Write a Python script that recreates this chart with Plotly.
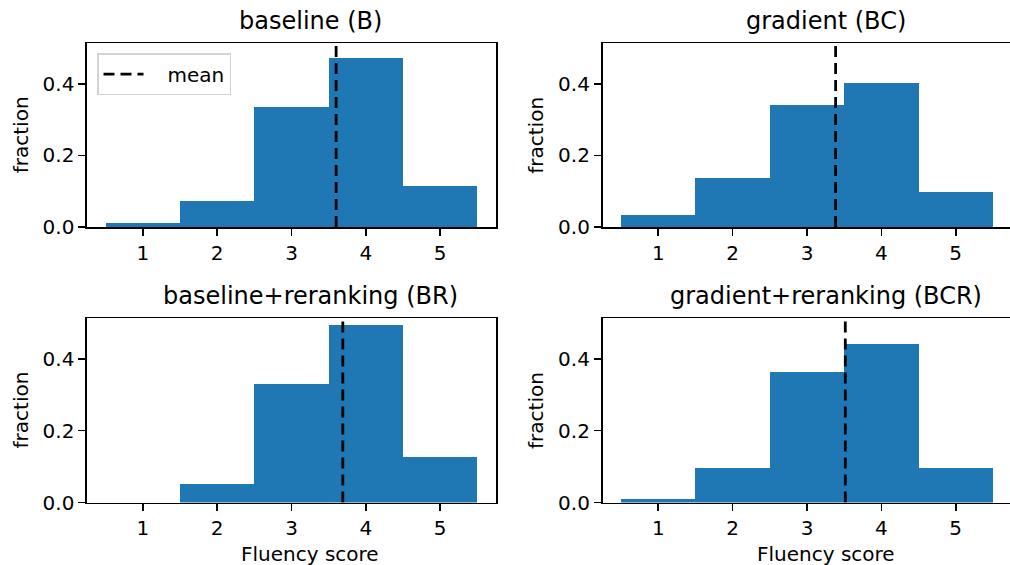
import plotly.graph_objects as go

scores = [1, 2, 3, 4, 5]
titles = ["baseline (B)", "gradient (BC)", "baseline+reranking (BR)", "gradient+reranking (BCR)"]
frac_B = [0.012, 0.072, 0.334, 0.471, 0.116]
frac_BC = [0.035, 0.137, 0.340, 0.401, 0.097]
frac_BR = [0.0, 0.052, 0.331, 0.494, 0.127]
frac_BCR = [0.010, 0.096, 0.364, 0.442, 0.096]
means = [3.60, 3.385, 3.69, 3.515]
y_ticks = [0.0, 0.2, 0.4]
y_tick_labels = ["0.0", "0.2", "0.4"]
x_label = "Fluency score"
y_label = "fraction"

W = 1010
S = 578 / 565          # vertical compensation
H = 578
FONT = "DejaVu Sans"
BLUE = "#1f77b4"
YMAX = 0.5125

series = [frac_B, frac_BC, frac_BR, frac_BCR]

# pixel geometry of panels (left, right, top, bottom) in target-image pixels
left_x = (87, 496)
right_x = (602.5, 1010)
top_y = (43.3, 226.7)
bot_y = (317.7, 501.7)
panels = [(left_x, top_y), (right_x, top_y), (left_x, bot_y), (right_x, bot_y)]
px_per_unit = 409 / 5.5


def py(y):
    """target-image y pixel -> paper fraction"""
    return 1 - (y * S) / H


fig = go.Figure()
layout = dict(
    width=W, height=H, margin=dict(l=0, r=0, t=0, b=0),
    paper_bgcolor="white", plot_bgcolor="white",
    bargap=0, showlegend=True,
    font=dict(family=FONT, size=20, color="black"),
)
annotations = []

for i, (vals, title, m) in enumerate(zip(series, titles, means)):
    (x0, x1), (y0, y1) = panels[i]
    n = "" if i == 0 else str(i + 1)
    xa, ya = "x" + n, "y" + n
    fig.add_trace(go.Bar(x=scores, y=vals, width=1.0, marker=dict(color=BLUE, line=dict(width=0)),
                         xaxis=xa, yaxis=ya, showlegend=False, hoverinfo="skip"))
    fig.add_trace(go.Scatter(x=[m, m], y=[0, YMAX], mode="lines", name="   mean",
                             line=dict(color="black", width=2.8, dash="11px,6px"),
                             xaxis=xa, yaxis=ya, showlegend=(i == 0), hoverinfo="skip"))
    xr_end = 0.25 + (x1 - x0) / px_per_unit
    is_right = i % 2 == 1
    layout["xaxis" + n] = dict(
        domain=[x0 / W, x1 / W], anchor=ya, range=[0.25, xr_end],
        tickvals=scores, ticktext=[str(s) for s in scores],
        ticks="outside", ticklen=7, tickwidth=1.6, tickcolor="black",
        showline=True, linewidth=1.6, linecolor="black", mirror=True,
        showgrid=False, zeroline=False, tickfont=dict(size=20, family=FONT, color="black"),
        fixedrange=True,
    )
    layout["yaxis" + n] = dict(
        domain=[py(y1), py(y0)], anchor=xa, range=[0, YMAX],
        tickvals=y_ticks, ticktext=y_tick_labels,
        ticks="outside", ticklen=7, tickwidth=1.6, tickcolor="black",
        showline=True, linewidth=1.6, linecolor="black", mirror=not is_right,
        showgrid=False, zeroline=False, tickfont=dict(size=20, family=FONT, color="black"),
        fixedrange=True,
    )
    cx = x0 + 0.25 * px_per_unit + 2.75 * px_per_unit
    # title
    annotations.append(dict(text=title, x=cx / W,
                            y=py(y0), xref="paper", yref="paper",
                            xanchor="center", yanchor="bottom", yshift=6, showarrow=False,
                            font=dict(size=24, family=FONT, color="black")))
    # y label
    annotations.append(dict(text=y_label, x=(x0 - 66) / W, y=py((y0 + y1) / 2),
                            xref="paper", yref="paper", xanchor="center", yanchor="middle",
                            textangle=-90, showarrow=False,
                            font=dict(size=20, family=FONT, color="black")))
    if i >= 2:
        annotations.append(dict(text=x_label, x=cx / W,
                                y=py(553), xref="paper", yref="paper",
                                xanchor="center", yanchor="middle", showarrow=False,
                                font=dict(size=20, family=FONT, color="black")))

layout["annotations"] = annotations
layout["legend"] = dict(x=97 / W, y=py(53), xanchor="left", yanchor="top",
                        bgcolor="white", bordercolor="#d3d3d3", borderwidth=1.5,
                        font=dict(size=20, family=FONT, color="black"),
                        itemwidth=40, tracegroupgap=0)
fig.update_layout(**layout)
fig.write_html("out.html", config={"displayModeBar": False, "staticPlot": True},
               post_script="document.body.style.margin='0px';document.body.style.overflow='hidden';")
